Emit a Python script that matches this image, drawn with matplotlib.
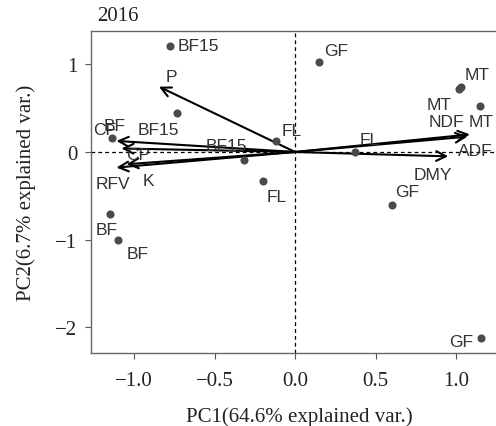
import numpy as np
import matplotlib.pyplot as plt

# sample scores (PC1, PC2) and their labels
obs_x = [-0.778, 0.149, 1.02, 1.03, 1.147, -0.733, -1.134, -0.116, 0.373,
         -0.314, -0.2, 0.599, -1.151, -1.1, 1.153]
obs_y = [1.21, 1.03, 0.72, 0.745, 0.525, 0.45, 0.164, 0.125, 0.0,
         -0.095, -0.33, -0.604, -0.71, -1.007, -2.128]
obs_lab = ['BF15', 'GF', 'MT', 'MT', 'MT', 'BF15', 'BF', 'FL', 'FL',
           'BF15', 'FL', 'GF', 'BF', 'BF', 'GF']
obs_lx = [-0.6, 0.257, 0.894, 1.13, 1.158, -0.85, -1.12, -0.022, 0.464,
          -0.426, -0.112, 0.696, -1.168, -0.975, 1.033]
obs_ly = [1.21, 1.163, 0.544, 0.886, 0.347, 0.26, 0.3, 0.25, 0.145,
          0.07, -0.51, -0.45, -0.88, -1.16, -2.167]

# variable loadings (arrow tips) and label positions
var_names = ['P', 'CF', 'CP', 'K', 'RFV', 'NDF', 'ADF', 'DMY']
var_x = [-0.845, -1.109, -1.078, -1.047, -1.109, 1.085, 1.07, 0.951]
var_y = [0.745, 0.126, 0.04, -0.14, -0.178, 0.2, 0.175, -0.05]
var_lx = [-0.766, -1.18, -0.975, -0.913, -1.13, 0.94, 1.116, 0.857]
var_ly = [0.86, 0.26, -0.03, -0.32, -0.36, 0.347, 0.012, -0.262]

xticks = [-1.0, -0.5, 0.0, 0.5, 1.0]
yticks = [-2, -1, 0, 1]

serif = ['Liberation Serif', 'DejaVu Serif']
sans = ['Liberation Sans', 'DejaVu Sans']

fig = plt.figure(figsize=(4.96, 4.27), dpi=100)
ax = fig.add_axes([0.1835, 0.1717, 0.84, 0.7533])

ax.axhline(0, color='black', ls='--', lw=0.9, dashes=(3, 2.5), zorder=1)
ax.axvline(0, color='black', ls='--', lw=0.9, dashes=(3, 2.5), zorder=1)

ax.scatter(obs_x, obs_y, s=34, color='#4a4a4a', zorder=3, linewidths=0)
for x, y, t in zip(obs_lx, obs_ly, obs_lab):
    ax.text(x, y, t, fontsize=12.5, family=sans, color='#333333',
            ha='center', va='center', zorder=4)

for x, y in zip(var_x, var_y):
    ax.annotate('', xy=(x, y), xytext=(0, 0),
                arrowprops=dict(arrowstyle='->,head_length=0.7,head_width=0.35',
                                color='black', lw=1.5, shrinkA=0, shrinkB=0),
                zorder=2)
for x, y, t in zip(var_lx, var_ly, var_names):
    ax.text(x, y, t, fontsize=12.5, family=sans, color='#333333',
            ha='center', va='center', zorder=4)

ax.set_xlim(-1.267, 1.32)
ax.set_ylim(-2.29, 1.38)
ax.set_xticks(xticks)
ax.set_xticklabels(['\u22121.0', '\u22120.5', '0.0', '0.5', '1.0'])
ax.set_yticks(yticks)
ax.set_yticklabels(['\u22122', '\u22121', '0', '1'])
for lab in ax.get_xticklabels() + ax.get_yticklabels():
    lab.set_family(serif)
    lab.set_fontsize(15)
    lab.set_color('#222222')
ax.tick_params(direction='out', length=4, width=0.8, color='#555555')
ax.tick_params(axis='x', pad=9)
ax.tick_params(axis='y', pad=6)
for s in ax.spines.values():
    s.set_color('#666666')
    s.set_linewidth(1.0)

ax.set_xlabel('PC1(64.6% explained var.)', family=serif, fontsize=15,
              color='#222222', labelpad=12)
ax.set_ylabel('PC2(6.7% explained var.)', family=serif, fontsize=15,
              color='#222222', labelpad=14)
fig.text(0.196, 0.962, '2016', family=serif, fontsize=15, color='#222222',
         ha='left', va='center')

fig.savefig('out.png', dpi=100)
